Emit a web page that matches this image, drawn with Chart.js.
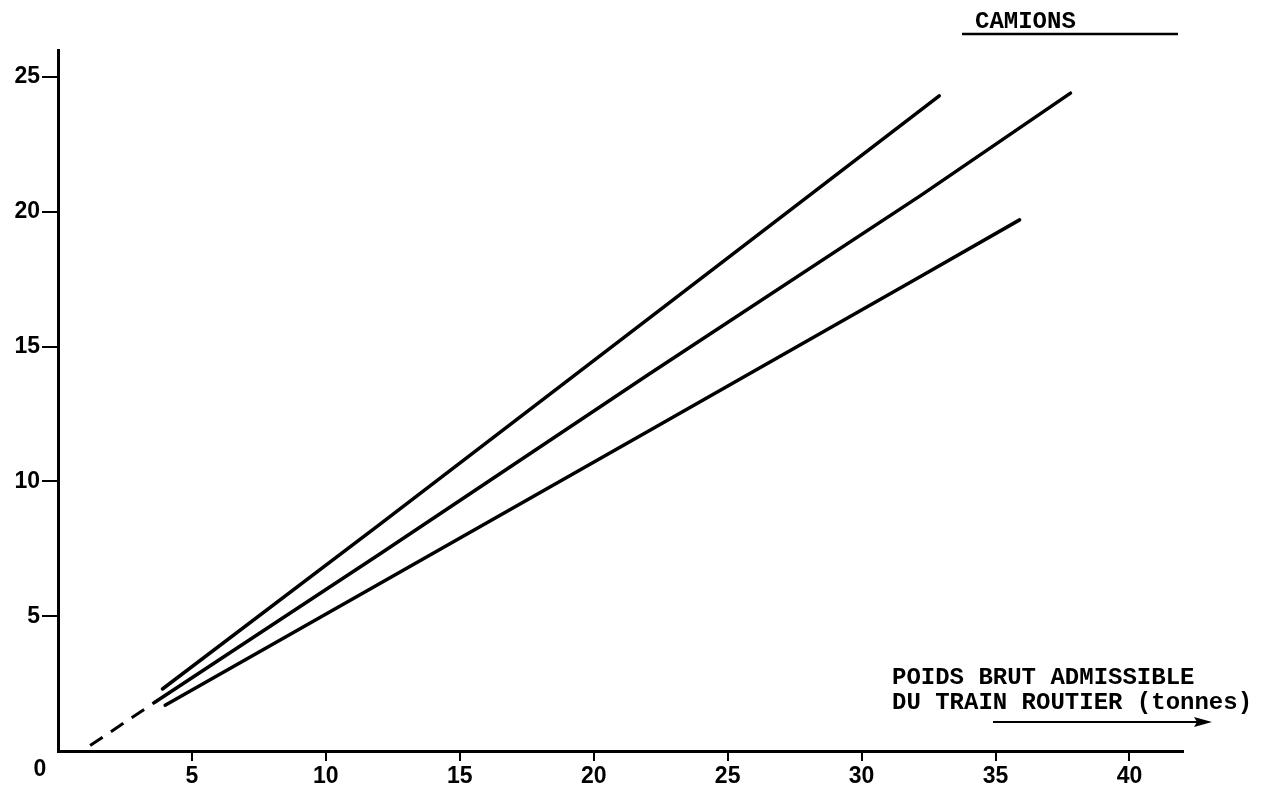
<!DOCTYPE html>
<html><head><meta charset="utf-8">
<script src="https://cdn.jsdelivr.net/npm/chart.js@4"></script>
<style>html,body{margin:0;padding:0;background:#fff;}canvas{display:block;}</style>
</head><body>
<canvas id="c" width="1268" height="786"></canvas>
<script>
// ---- data ----
const xTickValues = [5, 10, 15, 20, 25, 30, 35, 40];
const yTickValues = [5, 10, 15, 20, 25];
const xMax = 42;
const yMax = 26;
const lineTop    = [{x:3.9,y:2.3},{x:12,y:8.4},{x:22,y:16.0},{x:32.9,y:24.3}];
const lineMiddle = [{x:3.6,y:1.8},{x:12,y:7.3},{x:22.1,y:14.0},{x:32.2,y:20.6},{x:37.8,y:24.4}];
const lineBottom = [{x:4.0,y:1.7},{x:12,y:6.2},{x:22.1,y:11.9},{x:32.2,y:17.6},{x:35.9,y:19.7}];
const lineExtrapolated = [{x:1.2,y:0.2},{x:3.6,y:1.8}];
const titleText = 'CAMIONS';
const axisTitleLines = ['POIDS BRUT ADMISSIBLE', 'DU TRAIN ROUTIER (tonnes)'];
const originLabel = '0';

const tickFont = {family: '"Liberation Sans", Arial, sans-serif', size: 23, weight: 'bold'};
const typeFont = 'bold 24px "Liberation Mono", "DejaVu Sans Mono", monospace';

const annotations = {
  id: 'annotations',
  afterDraw(chart) {
    const ctx = chart.ctx;
    const xs = chart.scales.x, ys = chart.scales.y;
    ctx.save();
    ctx.fillStyle = '#000';
    ctx.strokeStyle = '#000';
    ctx.font = typeFont;
    ctx.textAlign = 'left';
    ctx.textBaseline = 'middle';
    ctx.fillText(titleText, 975, 22);
    ctx.lineWidth = 2.5;
    ctx.beginPath(); ctx.moveTo(962, 34); ctx.lineTo(1178, 34); ctx.stroke();
    ctx.fillText(axisTitleLines[0], 892, 678);
    ctx.fillText(axisTitleLines[1], 892, 703);
    ctx.lineWidth = 2;
    ctx.beginPath(); ctx.moveTo(993, 722); ctx.lineTo(1200, 722); ctx.stroke();
    ctx.beginPath(); ctx.moveTo(1212, 722); ctx.lineTo(1194, 717); ctx.lineTo(1197, 722); ctx.lineTo(1194, 727); ctx.closePath(); ctx.fill();
    ctx.font = 'bold 23px "Liberation Sans", Arial, sans-serif';
    ctx.textAlign = 'center';
    ctx.fillText(originLabel, xs.getPixelForValue(0) - 18, ys.getPixelForValue(0) + 19);
    ctx.restore();
  }
};

const lineStyle = {showLine: true, pointRadius: 0, borderColor: '#000', borderWidth: 3.5, borderCapStyle: 'round', fill: false};

new Chart(document.getElementById('c'), {
  type: 'scatter',
  data: {
    datasets: [
      Object.assign({data: lineTop}, lineStyle),
      Object.assign({data: lineMiddle}, lineStyle),
      Object.assign({data: lineBottom}, lineStyle),
      Object.assign({data: lineExtrapolated}, lineStyle, {borderWidth: 3, borderDash: [15, 10], borderCapStyle: 'butt'})
    ]
  },
  options: {
    responsive: false,
    animation: false,
    layout: {padding: {top: 50, right: 85, left: 0, bottom: 0}},
    plugins: {legend: {display: false}, tooltip: {enabled: false}},
    scales: {
      x: {
        type: 'linear', min: 0, max: xMax,
        afterBuildTicks: s => { s.ticks = xTickValues.map(v => ({value: v})); },
        afterFit: s => { s.height = 35; },
        ticks: {color: '#000', font: tickFont, padding: 2, maxRotation: 0, autoSkip: false},
        grid: {drawOnChartArea: false, drawTicks: true, tickLength: 10, color: '#000', lineWidth: 2},
        border: {display: true, color: '#000', width: 3}
      },
      y: {
        type: 'linear', min: 0, max: yMax,
        afterBuildTicks: s => { s.ticks = yTickValues.map(v => ({value: v})); },
        afterFit: s => { s.width = 58; },
        ticks: {color: '#000', font: tickFont, padding: 2, autoSkip: false},
        grid: {drawOnChartArea: false, drawTicks: true, tickLength: 16, color: '#000', lineWidth: 2},
        border: {display: true, color: '#000', width: 3}
      }
    }
  },
  plugins: [annotations]
});
</script>
</body></html>
